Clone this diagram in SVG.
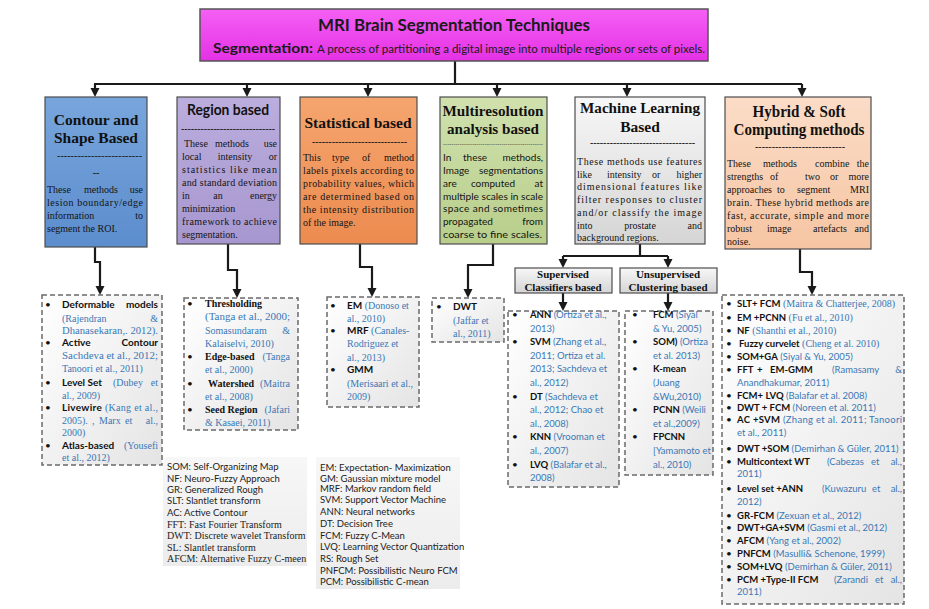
<svg xmlns="http://www.w3.org/2000/svg" width="929" height="609" viewBox="0 0 929 609">
<defs>
<linearGradient id="gMag" x1="0" y1="0" x2="0" y2="1"><stop offset="0" stop-color="#f560f5"/><stop offset="1" stop-color="#e431e4"/></linearGradient>
<linearGradient id="gBlue" x1="0" y1="0" x2="0" y2="1"><stop offset="0" stop-color="#78a5dc"/><stop offset="1" stop-color="#5c8dcd"/></linearGradient>
<linearGradient id="gPur" x1="0" y1="0" x2="0" y2="1"><stop offset="0" stop-color="#bbaddd"/><stop offset="1" stop-color="#a797d0"/></linearGradient>
<linearGradient id="gOra" x1="0" y1="0" x2="0" y2="1"><stop offset="0" stop-color="#f5a56e"/><stop offset="1" stop-color="#ec8b50"/></linearGradient>
<linearGradient id="gGre" x1="0" y1="0" x2="0" y2="1"><stop offset="0" stop-color="#d0e1ae"/><stop offset="1" stop-color="#b8ce8a"/></linearGradient>
<linearGradient id="gGry" x1="0" y1="0" x2="0" y2="1"><stop offset="0" stop-color="#f7f7f7"/><stop offset="1" stop-color="#d5d5d5"/></linearGradient>
<linearGradient id="gPea" x1="0" y1="0" x2="0" y2="1"><stop offset="0" stop-color="#fbdcc7"/><stop offset="1" stop-color="#f6c5a3"/></linearGradient>
<linearGradient id="gList" x1="0" y1="0" x2="1" y2="1"><stop offset="0" stop-color="#ffffff"/><stop offset="1" stop-color="#e4e4e4"/></linearGradient>
<linearGradient id="gLeg" x1="0" y1="0" x2="0" y2="1"><stop offset="0" stop-color="#f7f7f7"/><stop offset="1" stop-color="#ececec"/></linearGradient>
<marker id="ah" markerUnits="userSpaceOnUse" markerWidth="10" markerHeight="10" refX="6" refY="4.5" orient="auto"><path d="M0,0 L9,4.5 L0,9 Z" fill="#1a1a1a"/></marker>
<style>
.sans{font-family:Lato,"Liberation Sans",sans-serif}
.serif{font-family:"Liberation Serif",serif}
.bd{font-size:10px;fill:#141414}
.cite{fill:#3a78b5}
.nm{font-weight:bold;fill:#111}
.ttl{font-weight:bold;text-anchor:middle;fill:#111}
.dash{font-weight:bold;font-size:10px;fill:#222}
.box{stroke:#4d4d4d;stroke-width:1.2}
.list{stroke:#6a6a6a;stroke-width:1.5;stroke-dasharray:5 3;fill:url(#gList)}
.conn{fill:none;stroke:#1a1a1a;stroke-width:2.2}
.arr{marker-end:url(#ah)}
.lg{font-size:9.5px;fill:#222}
.lgs{font-size:10px;fill:#222}
</style>
</defs>
<rect width="929" height="609" fill="#ffffff"/>

<g id="connectors" class="conn">
<path d="M455,61 V84"/>
<path d="M94,84 H802"/>
<path class="arr" d="M95,84 V94"/>
<path class="arr" d="M247,84 V94"/>
<path class="arr" d="M368,84 V94"/>
<path class="arr" d="M497,84 V94"/>
<path class="arr" d="M627,84 V94"/>
<path class="arr" d="M802,84 V94"/>
<path class="arr" d="M95,247 V262 H100 V292"/>
<path class="arr" d="M228,244 V270 H237 V295"/>
<path class="arr" d="M360,244 V267 H372 V294"/>
<path class="arr" d="M493,244 V265 H468 V295"/>
<path d="M640,244 V256 M563,256 H668"/>
<path class="arr" d="M563,256 V265"/>
<path class="arr" d="M668,256 V265"/>
<path class="arr" d="M563,293 V308"/>
<path class="arr" d="M668,293 V308"/>
<path class="arr" d="M800,249 V272 H812 V292"/>
</g>

<g id="title">
<rect x="200" y="9" width="508" height="52" fill="url(#gMag)" stroke="#555" stroke-width="1.5"/>
<text class="sans" x="454" y="31" text-anchor="middle" font-size="17" font-weight="bold" fill="#1a1a1a" textLength="272" lengthAdjust="spacingAndGlyphs">MRI Brain Segmentation Techniques</text>
<text class="sans" x="213" y="53" font-size="14" font-weight="bold" fill="#1a1a1a" textLength="100" lengthAdjust="spacingAndGlyphs">Segmentation:</text>
<text class="sans" x="317" y="53" font-size="10.5" fill="#1a1a1a" textLength="388" lengthAdjust="spacingAndGlyphs">A process of partitioning a digital image into multiple regions or sets of pixels.</text>
</g>

<g id="contour">
<rect class="box" x="45" y="97" width="102" height="150" fill="url(#gBlue)"/>
<text class="serif ttl" x="96" y="125" font-size="15.5">Contour and</text>
<text class="serif ttl" x="96" y="143" font-size="15.5">Shape Based</text>
<text class="serif dash" x="57" y="158.5" textLength="85">-------------------------</text>
<text class="serif dash" x="96" y="175.5" text-anchor="middle">--</text>
<text class="serif bd" y="193"><tspan x="47">These</tspan><tspan x="101" text-anchor="middle">methods</tspan><tspan x="143" text-anchor="end">use</tspan></text>
<text class="serif bd" x="47" y="206" textLength="96">lesion boundary/edge</text>
<text class="serif bd" y="219"><tspan x="47">information</tspan><tspan x="143" text-anchor="end">to</tspan></text>
<text class="serif bd" x="47" y="232">segment the ROI.</text>
</g>

<g id="region">
<rect class="box" x="177" y="97" width="103" height="147" fill="url(#gPur)"/>
<text class="sans ttl" x="228" y="115" font-size="15" textLength="82" lengthAdjust="spacingAndGlyphs">Region based</text>
<text class="serif dash" x="181" y="131.5" textLength="94">-----------------------------</text>
<text class="serif bd" y="147"><tspan x="184">These</tspan><tspan x="232" text-anchor="middle">methods</tspan><tspan x="277" text-anchor="end">use</tspan></text>
<text class="serif bd" y="160"><tspan x="182">local</tspan><tspan x="235" text-anchor="middle">intensity</tspan><tspan x="277" text-anchor="end">or</tspan></text>
<text class="serif bd" x="182" y="173" textLength="95">statistics like mean</text>
<text class="serif bd" x="182" y="186" textLength="95">and standard deviation</text>
<text class="serif bd" y="199"><tspan x="182">in</tspan><tspan x="218" text-anchor="middle">an</tspan><tspan x="277" text-anchor="end">energy</tspan></text>
<text class="serif bd" x="182" y="212">minimization</text>
<text class="serif bd" x="182" y="225" textLength="95">framework to achieve</text>
<text class="serif bd" x="182" y="238">segmentation.</text>
</g>

<g id="statistical">
<rect class="box" x="300" y="97" width="117" height="147" fill="url(#gOra)"/>
<text class="serif ttl" x="358" y="128" font-size="15.5">Statistical based</text>
<text class="serif dash" x="312" y="144.5" textLength="95">-----------------------------</text>
<text class="serif bd" y="161"><tspan x="303">This</tspan><tspan x="332">type</tspan><tspan x="362">of</tspan><tspan x="414" text-anchor="end">method</tspan></text>
<text class="serif bd" x="303" y="174" textLength="111">labels pixels according to</text>
<text class="serif bd" x="303" y="187" textLength="111">probability values, which</text>
<text class="serif bd" x="303" y="200" textLength="111">are determined based on</text>
<text class="serif bd" x="303" y="213" textLength="111">the intensity distribution</text>
<text class="serif bd" x="303" y="226">of the image.</text>
</g>

<g id="multiresolution">
<rect class="box" x="440" y="97" width="107" height="147" fill="url(#gGre)"/>
<text class="serif ttl" x="493" y="116" font-size="15" textLength="101" lengthAdjust="spacingAndGlyphs">Multiresolution</text>
<text class="serif ttl" x="493" y="134" font-size="15" textLength="92" lengthAdjust="spacingAndGlyphs">analysis based</text>
<text class="serif" x="443" y="146" font-size="6" fill="#333" textLength="100">------------------------------------------------</text>
<text class="sans bd" y="161"><tspan x="443">In</tspan><tspan x="475" text-anchor="middle">these</tspan><tspan x="543" text-anchor="end">methods,</tspan></text>
<text class="sans bd" y="174"><tspan x="443">Image</tspan><tspan x="543" text-anchor="end">segmentations</tspan></text>
<text class="sans bd" y="187"><tspan x="443">are</tspan><tspan x="493" text-anchor="middle">computed</tspan><tspan x="543" text-anchor="end">at</tspan></text>
<text class="sans bd" x="443" y="200" textLength="100" lengthAdjust="spacingAndGlyphs">multiple scales in scale</text>
<text class="sans bd" x="443" y="212" textLength="100">space and sometimes</text>
<text class="sans bd" y="225"><tspan x="443">propagated</tspan><tspan x="543" text-anchor="end">from</tspan></text>
<text class="sans bd" x="443" y="238" textLength="99" lengthAdjust="spacingAndGlyphs">coarse to fine scales.</text>
</g>

<g id="machine-learning">
<rect class="box" x="575" y="97" width="130" height="147" fill="url(#gGry)"/>
<text class="serif ttl" x="640" y="113" font-size="15.5" textLength="120" lengthAdjust="spacingAndGlyphs">Machine Learning</text>
<text class="serif ttl" x="640" y="132" font-size="15.5">Based</text>
<text class="serif dash" x="590" y="145.5" textLength="105">--------------------------------</text>
<text class="serif bd" x="577" y="165" textLength="125">These methods use features</text>
<text class="serif bd" y="178"><tspan x="577">like</tspan><tspan x="607">intensity</tspan><tspan x="652">or</tspan><tspan x="702" text-anchor="end">higher</tspan></text>
<text class="serif bd" x="577" y="190" textLength="125">dimensional features like</text>
<text class="serif bd" x="577" y="203" textLength="125">filter responses to cluster</text>
<text class="serif bd" x="577" y="216" textLength="125">and/or classify the image</text>
<text class="serif bd" y="229"><tspan x="577">into</tspan><tspan x="640" text-anchor="middle">prostate</tspan><tspan x="702" text-anchor="end">and</tspan></text>
<text class="serif bd" x="577" y="241">background regions.</text>
</g>

<g id="hybrid">
<rect class="box" x="725" y="97" width="146" height="152" fill="url(#gPea)"/>
<text class="serif ttl" x="799" y="117" font-size="17" textLength="93" lengthAdjust="spacingAndGlyphs">Hybrid &amp; Soft</text>
<text class="serif ttl" x="799" y="135" font-size="17" textLength="131" lengthAdjust="spacingAndGlyphs">Computing methods</text>
<text class="serif dash" x="755" y="150" textLength="90">---------------------------</text>
<text class="serif bd" y="167"><tspan x="727">These</tspan><tspan x="763">methods</tspan><tspan x="815">combine</tspan><tspan x="869" text-anchor="end">the</tspan></text>
<text class="serif bd" y="180"><tspan x="727">strengths</tspan><tspan x="770">of</tspan><tspan x="805">two</tspan><tspan x="830">or</tspan><tspan x="869" text-anchor="end">more</tspan></text>
<text class="serif bd" y="193"><tspan x="727">approaches</tspan><tspan x="777">to</tspan><tspan x="797">segment</tspan><tspan x="869" text-anchor="end">MRI</tspan></text>
<text class="serif bd" x="727" y="206" textLength="142">brain.  These hybrid methods are</text>
<text class="serif bd" x="727" y="219" textLength="142">fast, accurate, simple and more</text>
<text class="serif bd" y="232"><tspan x="727">robust</tspan><tspan x="767">image</tspan><tspan x="813">artefacts</tspan><tspan x="869" text-anchor="end">and</tspan></text>
<text class="serif bd" x="727" y="245">noise.</text>
</g>

<g id="supervised">
<rect class="box" x="515" y="268" width="97" height="25" fill="url(#gGry)"/>
<text class="serif ttl" x="563" y="278" font-size="11">Supervised</text>
<text class="serif ttl" x="563" y="290.5" font-size="11" textLength="77">Classifiers based</text>
</g>

<g id="unsupervised">
<rect class="box" x="620" y="268" width="97" height="25" fill="url(#gGry)"/>
<text class="serif ttl" x="668" y="278" font-size="11">Unsupervised</text>
<text class="serif ttl" x="668" y="290.5" font-size="11" textLength="79">Clustering based</text>
</g>

<g id="contour-list">
<rect class="list" x="42" y="295" width="120" height="170"/>
<g class="sans" font-size="10" fill="#111"><text x="45" y="307.5">•</text><text x="45" y="345.5">•</text><text x="45" y="385.5">•</text><text x="45" y="410.5">•</text><text x="45" y="448.5">•</text></g>
<text class="sans nm" font-size="10" y="307.5"><tspan x="62">Deformable</tspan><tspan x="158" text-anchor="end">models</tspan></text>
<text class="serif cite" font-size="10" y="321.5"><tspan x="62">(Rajendran</tspan><tspan x="158" text-anchor="end">&amp;</tspan></text>
<text class="serif cite" font-size="10" x="62" y="333.5" textLength="96" lengthAdjust="spacingAndGlyphs">Dhanasekaran,. 2012).</text>
<text class="sans nm" font-size="10" y="345.5"><tspan x="62">Active</tspan><tspan x="158" text-anchor="end">Contour</tspan></text>
<text class="serif cite" font-size="10" x="62" y="358.5" textLength="96" lengthAdjust="spacingAndGlyphs">Sachdeva et al., 2012;</text>
<text class="serif cite" font-size="10" x="62" y="371.5">Tanoori et al.,  2011)</text>
<text font-size="10" y="385.5"><tspan x="62" class="sans nm">Level Set</tspan><tspan x="113" class="serif cite">(Dubey</tspan><tspan x="158" text-anchor="end" class="serif cite">et</tspan></text>
<text class="serif cite" font-size="10" x="62" y="398.5">al., 2009)</text>
<text font-size="10" x="62" y="410.5" textLength="96"><tspan class="sans nm">Livewire</tspan><tspan class="serif cite"> (Kang et al.,</tspan></text>
<text class="serif cite" font-size="10" y="423.5"><tspan x="62">2005).</tspan><tspan x="92">,</tspan><tspan x="99">Marx</tspan><tspan x="125">et</tspan><tspan x="158" text-anchor="end">al.,</tspan></text>
<text class="serif cite" font-size="10" x="62" y="435.5">2000)</text>
<text font-size="10" y="448.5"><tspan x="62" class="sans nm">Atlas-based</tspan><tspan x="158" text-anchor="end" class="serif cite">(Yousefi</tspan></text>
<text class="serif cite" font-size="10" x="62" y="461">et al., 2012)</text>
</g>

<g id="region-list">
<rect class="list" x="184" y="298" width="114" height="132"/>
<g class="sans" font-size="10" fill="#111"><text x="187" y="307">•</text><text x="187" y="360">•</text><text x="187" y="387">•</text><text x="187" y="413">•</text></g>
<text class="serif nm" font-size="10" x="205" y="307">Thresholding</text>
<text class="serif cite" font-size="10" x="205" y="320" textLength="85" lengthAdjust="spacingAndGlyphs">(Tanga et al., 2000;</text>
<text class="serif cite" font-size="10" y="334"><tspan x="205">Somasundaram</tspan><tspan x="290" text-anchor="end">&amp;</tspan></text>
<text class="serif cite" font-size="10" x="205" y="347">Kalaiselvi, 2010)</text>
<text font-size="10" y="360"><tspan x="205" class="serif nm">Edge-based</tspan><tspan x="290" text-anchor="end" class="serif cite">(Tanga</tspan></text>
<text class="serif cite" font-size="10" x="205" y="373">et al., 2000)</text>
<text font-size="10" y="387"><tspan x="208" class="serif nm">Watershed</tspan><tspan x="290" text-anchor="end" class="serif cite">(Maitra</tspan></text>
<text class="serif cite" font-size="10" x="205" y="400">et al., 2008)</text>
<text font-size="10" y="413"><tspan x="205" class="serif nm">Seed Region</tspan><tspan x="290" text-anchor="end" class="serif cite">(Jafari</tspan></text>
<text class="serif cite" font-size="10" x="205" y="425.5">&amp; Kasaei,  2011)</text>
</g>

<g id="statistical-list">
<rect class="list" x="327" y="297" width="92" height="110"/>
<g class="sans" font-size="10" fill="#111"><text x="330" y="309">•</text><text x="330" y="334">•</text><text x="330" y="373">•</text></g>
<text font-size="10" x="347" y="309"><tspan class="sans nm">EM</tspan><tspan class="serif cite"> (Donoso et</tspan></text>
<text class="serif cite" font-size="10" x="347" y="322">al., 2010)</text>
<text font-size="10" x="347" y="334"><tspan class="sans nm">MRF</tspan><tspan class="serif cite"> (Canales-</tspan></text>
<text class="serif cite" font-size="10" x="347" y="347">Rodriguez et</text>
<text class="serif cite" font-size="10" x="347" y="361">al., 2013)</text>
<text class="sans nm" font-size="10" x="347" y="373">GMM</text>
<text class="serif cite" font-size="10" x="347" y="387">(Merisaari et al.,</text>
<text class="serif cite" font-size="10" x="347" y="400">2009)</text>
</g>

<g id="multiresolution-list">
<rect class="list" x="432" y="298" width="72" height="44"/>
<text class="sans" font-size="10" fill="#111" x="436" y="310">•</text>
<text class="sans nm" font-size="10" x="453" y="310">DWT</text>
<text class="serif cite" font-size="10" x="453" y="324">(Jaffar et</text>
<text class="serif cite" font-size="10" x="453" y="337">al., 2011)</text>
</g>

<g id="supervised-list">
<rect class="list" x="508" y="311" width="111" height="176"/>
<g class="sans" font-size="10" fill="#111"><text x="512" y="318">•</text><text x="512" y="345.2">•</text><text x="512" y="399.6">•</text><text x="512" y="440.4">•</text><text x="512" y="467.6">•</text></g>
<g class="sans" font-size="9.5">
<text x="530" y="318"><tspan class="nm">ANN</tspan><tspan class="cite"> (Ortiza et al.,</tspan></text>
<text class="cite" x="530" y="331.6">2013)</text>
<text x="530" y="345.2"><tspan class="nm">SVM</tspan><tspan class="cite"> (Zhang et al.,</tspan></text>
<text class="cite" x="530" y="358.8">2011; Ortiza et al.</text>
<text class="cite" x="530" y="372.4">2013; Sachdeva et</text>
<text class="cite" x="530" y="386">al., 2012)</text>
<text x="530" y="399.6"><tspan class="nm">DT</tspan><tspan class="cite">  (Sachdeva et</tspan></text>
<text class="cite" x="530" y="413.2">al., 2012; Chao et</text>
<text class="cite" x="530" y="426.8">al., 2008)</text>
<text x="530" y="440.4"><tspan class="nm">KNN</tspan><tspan class="cite"> (Vrooman et</tspan></text>
<text class="cite" x="530" y="454">al., 2007)</text>
<text x="530" y="467.6"><tspan class="nm">LVQ</tspan><tspan class="cite"> (Balafar et al.,</tspan></text>
<text class="cite" x="530" y="481.2">2008)</text>
</g>
</g>

<g id="unsupervised-list">
<rect class="list" x="625" y="311" width="88" height="164"/>
<g class="sans" font-size="10" fill="#111"><text x="632" y="318">•</text><text x="632" y="345.2">•</text><text x="632" y="372.4">•</text><text x="632" y="413.2">•</text><text x="632" y="440.4">•</text></g>
<g class="sans" font-size="9.5">
<text x="653" y="318"><tspan class="nm">FCM</tspan><tspan class="cite"> (Siyal</tspan></text>
<text class="cite" x="653" y="331.6">&amp; Yu, 2005)</text>
<text x="653" y="345.2"><tspan class="nm">SOM)</tspan><tspan class="cite"> (Ortiza</tspan></text>
<text class="cite" x="653" y="358.8">et al. 2013)</text>
<text class="nm" x="653" y="372.4">K-mean</text>
<text class="cite" x="653" y="386">(Juang</text>
<text class="cite" x="653" y="399.6">&amp;Wu,2010)</text>
<text x="653" y="413.2"><tspan class="nm">PCNN</tspan><tspan class="cite">  (Weili</tspan></text>
<text class="cite" x="653" y="426.8">et al.,2009)</text>
<text class="nm" x="653" y="440.4">FPCNN</text>
<text class="cite" x="653" y="454">[Yamamoto et</text>
<text class="cite" x="653" y="467.6">al., 2010)</text>
</g>
</g>

<g id="hybrid-list">
<rect class="list" x="722" y="295" width="182" height="309"/>
<g class="sans" font-size="10" fill="#111">
<text x="726" y="307">•</text><text x="726" y="321">•</text><text x="726" y="334">•</text><text x="726" y="347">•</text><text x="726" y="360">•</text><text x="726" y="373">•</text><text x="726" y="399">•</text><text x="726" y="411">•</text><text x="726" y="423">•</text><text x="726" y="452">•</text><text x="726" y="465">•</text><text x="726" y="492">•</text><text x="726" y="519">•</text><text x="726" y="531">•</text><text x="726" y="544">•</text><text x="726" y="557">•</text><text x="726" y="570">•</text><text x="726" y="583">•</text>
</g>
<g font-size="9.5">
<text x="737" y="307"><tspan class="sans nm">SLT+ FCM</tspan><tspan class="serif cite" font-size="10"> (Maitra &amp; Chatterjee, 2008)</tspan></text>
<text x="737" y="321"><tspan class="sans nm">EM +PCNN</tspan><tspan class="serif cite" font-size="10"> (Fu et al., 2010)</tspan></text>
<text x="737" y="334"><tspan class="sans nm">NF</tspan><tspan class="serif cite" font-size="10"> (Shanthi et al., 2010)</tspan></text>
<text x="739" y="347"><tspan class="sans nm">Fuzzy curvelet</tspan><tspan class="serif cite" font-size="10">  (Cheng et al. 2010)</tspan></text>
<text x="737" y="360"><tspan class="sans nm">SOM+GA</tspan><tspan class="sans cite"> (Siyal &amp; Yu, 2005)</tspan></text>
<text y="373"><tspan x="737" class="sans nm">FFT</tspan><tspan x="757" class="sans nm">+</tspan><tspan x="770" class="sans nm">EM-GMM</tspan><tspan x="832" class="sans cite">(Ramasamy</tspan><tspan x="902" text-anchor="end" class="sans cite">&amp;</tspan></text>
<text class="sans cite" x="737" y="386">Anandhakumar, 2011)</text>
<text x="737" y="399"><tspan class="sans nm">FCM+ LVQ</tspan><tspan class="sans cite"> (Balafar et al. 2008)</tspan></text>
<text x="737" y="411"><tspan class="sans nm">DWT + FCM</tspan><tspan class="sans cite"> (Noreen et al. 2011)</tspan></text>
<text x="737" y="423" textLength="165"><tspan class="sans nm">AC +SVM</tspan><tspan class="sans cite"> (Zhang et al. 2011; Tanoori</tspan></text>
<text class="sans cite" x="737" y="436">et al., 2011)</text>
<text x="737" y="452"><tspan class="sans nm">DWT +SOM</tspan><tspan class="sans cite"> (Demirhan &amp; Güler, 2011)</tspan></text>
<text y="465"><tspan x="737" class="sans nm">Multicontext WT</tspan><tspan x="827" class="sans cite">(Cabezas</tspan><tspan x="871" class="sans cite">et</tspan><tspan x="902" text-anchor="end" class="sans cite">al.,</tspan></text>
<text class="sans cite" x="737" y="477">2011)</text>
<text y="492"><tspan x="737" class="sans nm">Level set +ANN</tspan><tspan x="822" class="sans cite">(Kuwazuru</tspan><tspan x="872" class="sans cite">et</tspan><tspan x="902" text-anchor="end" class="sans cite">al.,</tspan></text>
<text class="sans cite" x="737" y="505">2012)</text>
<text x="737" y="519"><tspan class="sans nm">GR-FCM</tspan><tspan class="sans cite"> (Zexuan et al., 2012)</tspan></text>
<text x="737" y="531"><tspan class="sans nm">DWT+GA+SVM</tspan><tspan class="sans cite"> (Gasmi et al., 2012)</tspan></text>
<text x="737" y="544"><tspan class="sans nm">AFCM</tspan><tspan class="sans cite"> (Yang et al., 2002)</tspan></text>
<text x="737" y="557"><tspan class="sans nm">PNFCM</tspan><tspan class="sans cite"> (Masulli&amp; Schenone, 1999)</tspan></text>
<text x="737" y="570"><tspan class="sans nm">SOM+LVQ</tspan><tspan class="sans cite"> (Demirhan &amp; Güler, 2011)</tspan></text>
<text y="583"><tspan x="737" class="sans nm">PCM +Type-II FCM</tspan><tspan x="834" class="sans cite">(Zarandi</tspan><tspan x="875" class="sans cite">et</tspan><tspan x="902" text-anchor="end" class="sans cite">al.,</tspan></text>
<text class="sans cite" x="737" y="595">2011)</text>
</g>
</g>

<g id="legend-left">
<rect x="163" y="457" width="144" height="109" fill="url(#gLeg)"/>
<text class="sans lg" x="167" y="469.5">SOM: Self-Organizing Map</text>
<text class="sans lg" x="167" y="481.5">NF: Neuro-Fuzzy Approach</text>
<text class="sans lg" x="167" y="492.5">GR: Generalized Rough</text>
<text class="sans lg" x="167" y="503.5">SLT: Slantlet transform</text>
<text class="sans lg" x="167" y="515.5">AC: Active Contour</text>
<text class="serif lgs" x="167" y="527.5">FFT: Fast Fourier Transform</text>
<text class="serif lgs" x="167" y="538.5">DWT: Discrete wavelet Transform</text>
<text class="serif lgs" x="167" y="550.5">SL: Slantlet transform</text>
<text class="serif lgs" x="167" y="561.5">AFCM: Alternative Fuzzy C-meen</text>
</g>

<g id="legend-right">
<rect x="316" y="457" width="144" height="132" fill="url(#gLeg)"/>
<text class="sans lg" x="320" y="470.5">EM: Expectation- Maximization</text>
<text class="sans lg" x="320" y="481.5">GM: Gaussian mixture model</text>
<text class="sans lg" x="320" y="491.5">MRF: Markov random field</text>
<text class="sans lg" x="320" y="502.5">SVM: Support Vector Machine</text>
<text class="sans lg" x="320" y="514.5">ANN: Neural networks</text>
<text class="sans lg" x="320" y="526.5">DT: Decision Tree</text>
<text class="sans lg" x="320" y="538.5">FCM: Fuzzy C-Mean</text>
<text class="sans lg" x="320" y="549.5">LVQ: Learning Vector Quantization</text>
<text class="sans lg" x="320" y="561.5">RS: Rough Set</text>
<text class="sans lg" x="320" y="573.5">PNFCM: Possibilistic Neuro FCM</text>
<text class="sans lg" x="320" y="584.5">PCM: Possibilistic C-mean</text>
</g>
</svg>
